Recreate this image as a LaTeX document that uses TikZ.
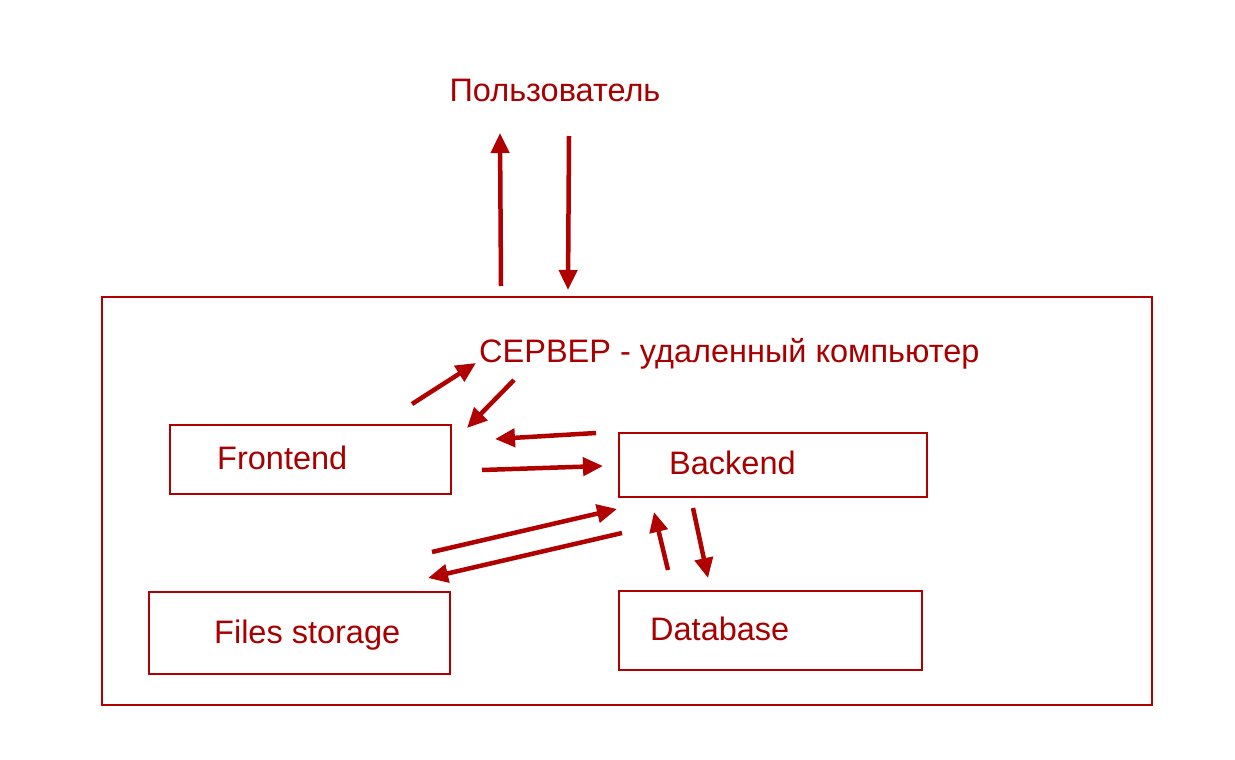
\documentclass[tikz,border=0pt]{standalone}
\usepackage{fontspec}
\setmainfont{Liberation Sans}
\usetikzlibrary{arrows.meta}
\definecolor{srvred}{RGB}{176,0,0}
\definecolor{srvtext}{RGB}{168,0,0}
\tikzset{box/.style={draw=srvred,line width=1.6pt,rectangle}}
\tikzset{lbl/.style={text=srvtext,inner sep=0pt,anchor=base west,
                     font=\fontsize{32.5}{38}\selectfont}}
\tikzset{arr/.style={draw=srvred,line width=4.5pt,
                     -{Triangle[length=20pt,width=18pt]}}}
\begin{document}
\begin{tikzpicture}[x=1pt,y=-1pt]
    \useasboundingbox (0,0) rectangle (1235,760);
    % server frame and boxes
    \draw[box] (102,297) rectangle (1152,705);
    \node[box,minimum width=281pt,minimum height=69pt] (fe) at (310.5,459.5) {};
    \node[box,minimum width=308pt,minimum height=64pt] (be) at (773,465) {};
    \node[box,minimum width=301pt,minimum height=82pt] (fs) at (299.5,633) {};
    \node[box,minimum width=303pt,minimum height=79pt] (db) at (770.5,630.5) {};
    % Labels
    \node[lbl,anchor=base] (user) at (555,102) {Пользователь};
    \node[lbl] (srv) at (479,362) {СЕРВЕР - удаленный компьютер};
    \node[lbl] (fetext) at (217,469) {Frontend};
    \node[lbl] (betext) at (669,474) {Backend};
    \node[lbl] (fstext) at (214,643) {Files storage};
    \node[lbl] (dbtext) at (650,640) {Database};
    % arrow ends
    \coordinate (up0) at (501,286);     \coordinate (up1) at (500,133);
    \coordinate (dn0) at (569,136);     \coordinate (dn1) at (568,290);
    \coordinate (fes0) at (412,404);    \coordinate (fes1) at (476,363);
    \coordinate (sfe0) at (514,380);    \coordinate (sfe1) at (467,428);
    \coordinate (bfe0) at (596,433);    \coordinate (bfe1) at (495,439);
    \coordinate (feb0) at (482,470);    \coordinate (feb1) at (603,466);
    \coordinate (fsb0) at (432,552);    \coordinate (fsb1) at (617,509);
    \coordinate (bfs0) at (622,533);    \coordinate (bfs1) at (428,578);
    \coordinate (dbb0) at (668,570);    \coordinate (dbb1) at (654,512);
    \coordinate (bdb0) at (693,508);    \coordinate (bdb1) at (708,578);
    \foreach \a in {up,dn,fes,sfe,bfe,feb,fsb,bfs,dbb,bdb}{%
          \draw[arr] (\a0) -- (\a1);
        }
\end{tikzpicture}
\end{document}
